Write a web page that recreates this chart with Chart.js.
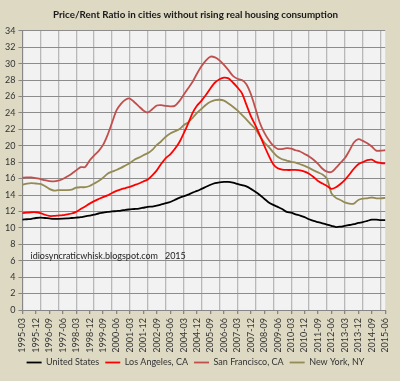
<!DOCTYPE html>
<html><head><meta charset="utf-8">
<script src="https://cdn.jsdelivr.net/npm/chart.js@4.4.1/dist/chart.umd.min.js"></script>
<style>html,body{margin:0;padding:0;background:#DDD9C3;}#wrap{width:400px;height:381px;}</style>
</head><body><div id="wrap"><canvas id="c" width="400" height="381"></canvas></div>
<script>
const categories = [
"1995-03","1995-06","1995-09","1995-12","1996-03","1996-06","1996-09","1996-12",
"1997-03","1997-06","1997-09","1997-12","1998-03","1998-06","1998-09","1998-12",
"1999-03","1999-06","1999-09","1999-12","2000-03","2000-06","2000-09","2000-12",
"2001-03","2001-06","2001-09","2001-12","2002-03","2002-06","2002-09","2002-12",
"2003-03","2003-06","2003-09","2003-12","2004-03","2004-06","2004-09","2004-12",
"2005-03","2005-06","2005-09","2005-12","2006-03","2006-06","2006-09","2006-12",
"2007-03","2007-06","2007-09","2007-12","2008-03","2008-06","2008-09","2008-12",
"2009-03","2009-06","2009-09","2009-12","2010-03","2010-06","2010-09","2010-12",
"2011-03","2011-06","2011-09","2011-12","2012-03","2012-06","2012-09","2012-12",
"2013-03","2013-06","2013-09","2013-12","2014-03","2014-06","2014-09","2014-12",
"2015-03","2015-06"];

const unitedStates = [
11.0,11.05,11.1,11.2,11.25,11.2,11.15,11.1,11.1,11.12,11.15,11.2,11.25,11.3,11.4,11.5,
11.6,11.75,11.85,11.95,12.0,12.05,12.1,12.2,12.25,12.3,12.35,12.45,12.55,12.6,12.7,12.85,
13.0,13.15,13.4,13.65,13.85,14.05,14.3,14.5,14.75,15.0,15.25,15.45,15.55,15.6,15.6,15.5,
15.35,15.2,15.05,14.75,14.4,14.0,13.55,13.1,12.8,12.55,12.3,11.95,11.85,11.65,11.5,11.3,
11.05,10.85,10.7,10.55,10.4,10.25,10.1,10.15,10.25,10.35,10.45,10.6,10.7,10.85,11.0,11.0,
10.95,10.95];

const losAngeles = [
11.8,11.85,11.9,11.9,11.8,11.6,11.45,11.45,11.5,11.55,11.65,11.75,11.95,12.3,12.6,12.95,
13.25,13.5,13.75,13.95,14.25,14.5,14.7,14.85,15.0,15.2,15.4,15.65,15.9,16.4,17.0,17.8,
18.5,18.95,19.6,20.4,21.5,22.7,24.0,24.9,25.5,26.2,27.0,27.7,28.1,28.3,28.2,27.7,
27.1,26.4,25.0,23.6,22.5,21.3,20.0,18.8,17.75,17.25,17.1,17.05,17.05,17.05,17.0,16.85,
16.6,16.2,15.7,15.4,15.1,14.75,14.95,15.35,15.85,16.5,17.2,17.75,18.0,18.25,18.3,18.0,
17.9,17.85];

const sanFrancisco = [
16.1,16.15,16.15,16.05,15.95,15.8,15.7,15.65,15.75,15.95,16.25,16.6,17.0,17.4,17.4,18.2,
18.8,19.35,20.1,21.3,22.8,24.3,25.1,25.6,25.75,25.3,24.8,24.3,24.05,24.45,24.9,24.95,
24.85,24.8,24.85,25.4,26.2,27.0,27.8,28.8,29.7,30.4,30.85,30.75,30.4,29.85,29.2,28.5,
28.15,28.0,27.5,26.3,24.6,22.8,21.6,20.7,20.0,19.6,19.6,19.7,19.65,19.45,19.3,19.0,
18.7,18.3,17.8,17.2,16.85,16.8,17.3,17.9,18.5,19.4,20.4,20.8,20.6,20.3,19.9,19.4,
19.4,19.45];

const newYork = [
15.25,15.4,15.45,15.4,15.35,15.1,14.75,14.55,14.6,14.6,14.6,14.65,14.9,14.95,14.95,15.1,
15.4,15.7,16.1,16.6,16.85,17.05,17.3,17.6,17.9,18.3,18.55,18.85,19.1,19.5,20.1,20.55,
21.1,21.5,21.75,22.0,22.5,22.85,23.4,24.0,24.5,25.0,25.35,25.55,25.6,25.5,25.15,24.75,
24.3,23.75,23.2,22.6,22.05,21.2,20.4,19.85,19.2,18.65,18.35,18.2,18.05,17.95,17.75,17.55,
17.3,17.0,16.75,16.5,16.0,14.2,13.65,13.4,13.1,12.95,12.95,13.4,13.55,13.6,13.7,13.6,
13.6,13.65];

const seriesNames = ["United States","Los Angeles, CA","San Francisco, CA","New York, NY"];
const seriesColors = ["#000000","#FF0000","#C0504D","#948A54"];
const yTicks = {min:0, max:34, step:2};
const titleText = "Price/Rent Ratio in cities without rising real housing consumption";
const noteText = "idiosyncraticwhisk.blogspot.com   2015";
const notePos = {index:1.8, value:6.6};

const FONT = "Lato, 'Liberation Sans', sans-serif";

const bgPlugin = {
  id:'bg',
  beforeDraw(chart){
    const {ctx, chartArea:a} = chart;
    ctx.save();
    ctx.fillStyle = '#DDD9C3';
    ctx.fillRect(0,0,chart.width,chart.height);
    ctx.fillStyle = '#F2F2F2';
    ctx.fillRect(a.left, a.top, a.right-a.left, a.bottom-a.top);
    ctx.restore();
  },
  afterDraw(chart){
    const {ctx} = chart;
    const xs = chart.scales.x, ys = chart.scales.y;
    const x0 = xs.getPixelForValue(0), x1 = xs.getPixelForValue(1);
    const px = x0 + (x1-x0)*notePos.index;
    const py = ys.getPixelForValue(notePos.value);
    ctx.save();
    ctx.font = "9px " + FONT;
    ctx.fillStyle = '#222';
    ctx.textBaseline = 'middle';
    ctx.textAlign = 'left';
    ctx.fillText(noteText, px, py);
    ctx.restore();
  }
};

const data = {
  labels: categories,
  datasets: [unitedStates, losAngeles, sanFrancisco, newYork].map((d,i)=>({
    label: seriesNames[i],
    data: d,
    borderColor: seriesColors[i],
    backgroundColor: seriesColors[i],
    borderWidth: 1.8,
    pointRadius: 0,
    tension: 0.25,
    fill: false
  }))
};

new Chart(document.getElementById('c'), {
  type:'line',
  data,
  plugins:[bgPlugin],
  options:{
    responsive:false,
    animation:false,
    layout:{padding:{left:2,right:11,top:0,bottom:4}},
    plugins:{
      title:{display:true, text:titleText, color:'#1a1a1a',
        font:{family:FONT, size:9.8, weight:'bold'}, padding:{top:9,bottom:10}},
      legend:{position:'bottom',
        labels:{usePointStyle:true, pointStyle:'line', pointStyleWidth:15, boxHeight:9,
          color:'#333', font:{family:FONT, size:9}, padding:6}},
      tooltip:{enabled:false}
    },
    scales:{
      x:{
        offset:false,
        afterFit:(s)=>{ s.height = 42; },
        grid:{
          color:(c)=> (c.index%4===0 ? '#B8B8B8' : 'rgba(0,0,0,0)'),
          lineWidth:1.3,
          tickColor:(c)=> (c.index%3===0 ? '#868686' : 'rgba(0,0,0,0)'),
          tickLength:4
        },
        border:{color:'#868686', width:1},
        ticks:{autoSkip:false, maxRotation:90, minRotation:90, color:'#333',
          font:{family:FONT, size:9}, padding:4,
          callback:(v,i)=> (i%3===0 ? categories[i] : '')}
      },
      y:{
        min:yTicks.min, max:yTicks.max,
        grid:{color:'#8C8C8C', lineWidth:1, tickLength:4, tickColor:'#868686'},
        border:{color:'#868686', width:1},
        ticks:{stepSize:yTicks.step, color:'#333', font:{family:FONT, size:9}, padding:3}
      }
    }
  }
});
</script></body></html>
